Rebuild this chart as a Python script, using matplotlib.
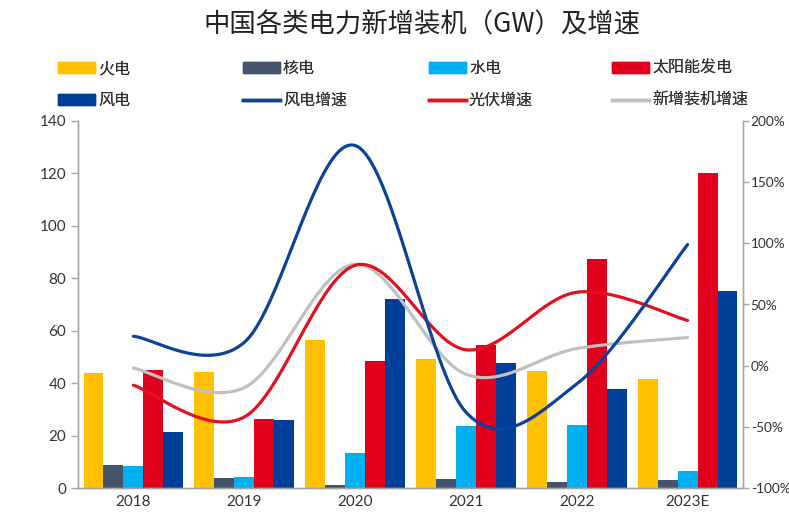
import matplotlib
matplotlib.use("Agg")
import matplotlib.pyplot as plt
import numpy as np
from matplotlib.patches import Patch
from matplotlib.lines import Line2D

plt.rcParams['font.family'] = ['Noto Sans CJK SC', 'DejaVu Sans']

years = ['2018', '2019', '2020', '2021', '2022', '2023E']
# GW
thermal = [44.0, 44.3, 56.5, 49.3, 44.7, 41.5]
nuclear = [8.8, 4.0, 1.1, 3.4, 2.3, 3.0]
hydro = [8.5, 4.3, 13.2, 23.5, 24.0, 6.3]
solar = [45.0, 26.5, 48.3, 54.5, 87.3, 120.0]
wind = [21.5, 25.8, 72.0, 47.5, 37.8, 75.0]
# growth, %
wind_growth = [24, 19, 180, -38, -15, 99]
pv_growth = [-16, -42, 82, 13, 60, 37]
total_growth = [-2, -18, 83, -7, 14, 23]

c_thermal = '#FFC000'
c_nuclear = '#44546A'
c_hydro = '#00B0F0'
c_solar = '#E0001B'
c_wind = '#003F98'
c_wind_l = '#0A4397'
c_pv_l = '#E3101E'
c_tot_l = '#C0C0C0'


def smooth(y, n=40):
    # catmull-rom through the points, like excel's smoothed line
    y = np.asarray(y, float)
    x = np.arange(len(y), dtype=float)
    px = np.concatenate([[x[0]], x, [x[-1]]])
    py = np.concatenate([[y[0]], y, [y[-1]]])
    xs, ys = [], []
    t = np.linspace(0, 1, n)
    for i in range(1, len(px) - 2):
        for p, out in ((px, xs), (py, ys)):
            p0, p1, p2, p3 = p[i - 1], p[i], p[i + 1], p[i + 2]
            out.append(0.5 * (2 * p1 + (-p0 + p2) * t
                              + (2 * p0 - 5 * p1 + 4 * p2 - p3) * t ** 2
                              + (-p0 + 3 * p1 - 3 * p2 + p3) * t ** 3))
    return np.concatenate(xs), np.concatenate(ys)


fig = plt.figure(figsize=(7.89, 5.12), dpi=100)
ax = fig.add_axes([78 / 789, 1 - 488 / 512, (743 - 78) / 789, (488 - 121) / 512])
ax2 = ax.twinx()

x = np.arange(len(years))
w = 0.18
series = [(thermal, c_thermal), (nuclear, c_nuclear), (hydro, c_hydro),
          (solar, c_solar), (wind, c_wind)]
for k, (vals, col) in enumerate(series):
    ax.bar(x + (k - 2) * w, vals, w, color=col, zorder=2)

for vals, col in ((total_growth, c_tot_l), (pv_growth, c_pv_l), (wind_growth, c_wind_l)):
    sx, sy = smooth(vals)
    ax2.plot(sx, sy, color=col, lw=2.3, solid_capstyle='round', zorder=3)

ax.set_xlim(-0.5, len(years) - 0.5)
ax.set_ylim(0, 140)
ax.set_yticks(range(0, 141, 20))
ax2.set_ylim(-100, 200)
ax2.set_yticks(range(-100, 201, 50))
ax2.set_yticklabels([f'{v}%' for v in range(-100, 201, 50)])
ax.set_xticks(x)
ax.set_xticklabels(years)
ax2.patch.set_visible(False)

for a in (ax, ax2):
    a.spines['top'].set_visible(False)
    for s in ('left', 'right', 'bottom'):
        a.spines[s].set_color('#A6A6A6')
        a.spines[s].set_linewidth(1.0)
    a.tick_params(axis='y', colors='#A6A6A6', labelcolor='#333333',
                  labelsize=11, length=5, width=1)
    for lab in a.get_yticklabels():
        lab.set_fontfamily('Lato')
ax2.tick_params(axis='y', labelsize=9.8, length=4, pad=1.5)
ax.tick_params(axis='x', length=0, labelsize=11, labelcolor='#333333', pad=5)
for lab in ax.get_xticklabels():
    lab.set_fontfamily('Lato')

fig.text(0.535, 0.951, '中国各类电力新增装机（GW）及增速', ha='center', va='center',
         fontsize=19, color='#222222')

# legend: four columns of two entries each
cols = [
    ([Patch(color=c_thermal), Patch(color=c_wind)], ['火电', '风电']),
    ([Patch(color=c_nuclear), Line2D([], [], color=c_wind_l, lw=2.5)], ['核电', '风电增速']),
    ([Patch(color=c_hydro), Line2D([], [], color=c_pv_l, lw=2.5)], ['水电', '光伏增速']),
    ([Patch(color=c_solar), Line2D([], [], color=c_tot_l, lw=2.5)], ['太阳能发电', '新增装机增速']),
]
col_x = [58, 243, 429, 612]
for (h, l), cx in zip(cols, col_x):
    leg = fig.legend(h, l, loc='upper left', bbox_to_anchor=(cx / 789, 1 - 60 / 512),
                     frameon=False, fontsize=11.5, handlelength=2.3, handleheight=0.7,
                     handletextpad=0.2, labelspacing=0.95, borderaxespad=0,
                     borderpad=0, labelcolor='#333333')
    fig.add_artist(leg)

fig.savefig('out.png', dpi=100)
